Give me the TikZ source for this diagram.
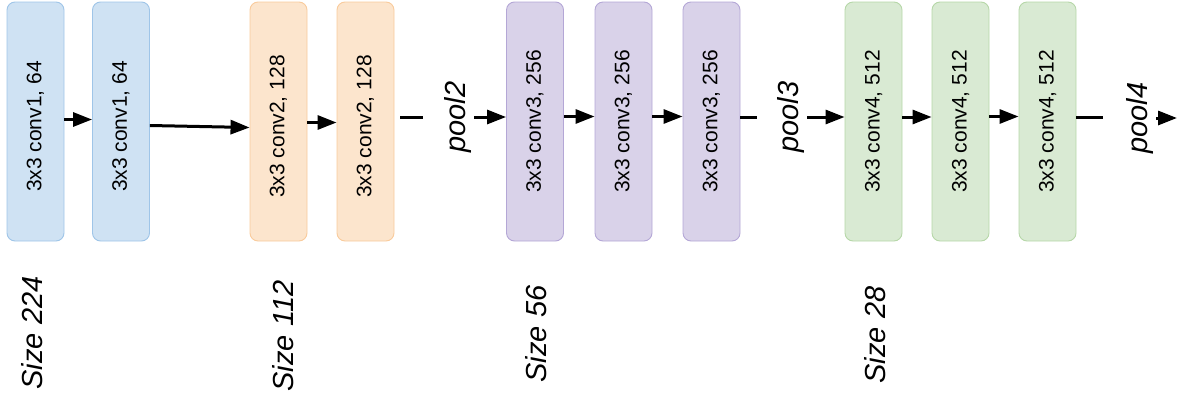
\documentclass[tikz,border=0pt]{standalone}
\usepackage{fontspec}
\setmainfont{Liberation Sans}
\usetikzlibrary{arrows.meta}
\definecolor{blueFill}{HTML}{CFE2F3}
\definecolor{blueLine}{HTML}{9FC5E8}
\definecolor{orangeFill}{HTML}{FCE5CD}
\definecolor{orangeLine}{HTML}{F9CB9C}
\definecolor{purpleFill}{HTML}{D9D2E9}
\definecolor{purpleLine}{HTML}{B4A7D6}
\definecolor{greenFill}{HTML}{D9EAD3}
\definecolor{greenLine}{HTML}{B6D7A8}

\begin{document}
\begin{tikzpicture}[x=1pt,y=-1pt,line width=3pt,>={Triangle[length=19pt,width=14pt]},
  conv/.style={draw=#1Line,fill=#1Fill,line width=0.9pt,rounded corners=8pt,
    minimum width=57pt,minimum height=239pt,inner sep=0pt},
  txt/.style={rotate=90,inner sep=0pt,font=\fontsize{21}{25}\selectfont},
  pool/.style={inner sep=1pt,font=\fontsize{29}{34}\selectfont\itshape}]
\useasboundingbox (0,0) rectangle (1177,397);
% ---------- conv1 (size 224) ----------
\node[conv=blue,label={[yshift=-5pt,txt]center:{3x3 conv1, 64}}] (c1a) at (35.5,121.5) {};
\node[conv=blue,label={[yshift=-5pt,txt]center:{3x3 conv1, 64}}] (c1b) at (121,121.5) {};
\draw[->] ([yshift=2pt]c1a.east) -- ([yshift=2pt]c1b.west);
\node[pool] (z1) at (32,333) {\rotatebox{90}{Size 224}};
% ---------- conv2 (size 112) ----------
\node[conv=orange,label={[yshift=-5pt,txt]center:{3x3 conv2, 128}}] (c2a) at (278.5,121.5) {};
\node[conv=orange,label={[yshift=-5pt,txt]center:{3x3 conv2, 128}}] (c2b) at (365.5,121.5) {};
\draw[->] ([yshift=-4pt]c1b.east) -- ([yshift=-6pt]c2a.west);
\draw[->] ([yshift=-1pt]c2a.east) -- ([yshift=-1pt]c2b.west);
\coordinate (s2) at (423,117);
\draw ([xshift=6pt,yshift=4.5pt]c2b.east) -- (s2);
\node[pool] (z2) at (283,336) {\rotatebox{90}{Size 112}};
% ---------- conv3 (size 56) ----------
\node[conv=purple,label={[txt]center:{3x3 conv3, 256}}] (c3a) at (535,121.5) {};
\node[conv=purple,label={[txt]center:{3x3 conv3, 256}}] (c3b) at (623.5,121.5) {};
\node[conv=purple,label={[txt]center:{3x3 conv3, 256}}] (c3c) at (711.5,121.5) {};
\node[pool] (p2) at (458,117) {\rotatebox{90}{pool2}};
\draw[->] (p2.east) -- (p2.east -| c3a.west);
\draw[->] ([yshift=5pt]c3a.east) -- ([yshift=5pt]c3b.west);
\draw[->] ([yshift=5pt]c3b.east) -- ([yshift=5pt]c3c.west);
\coordinate (s3) at (757,117);
\draw ([yshift=4.5pt]c3c.east) -- (s3);
\node[pool] (z3) at (536,334) {\rotatebox{90}{Size 56}};
% ---------- conv4 (size 28) ----------
\node[conv=green,label={[txt]center:{3x3 conv4, 512}}] (c4a) at (873.5,121.5) {};
\node[conv=green,label={[txt]center:{3x3 conv4, 512}}] (c4b) at (960.5,121.5) {};
\node[conv=green,label={[txt]center:{3x3 conv4, 512}}] (c4c) at (1047.5,121.5) {};
\node[pool] (p3) at (791,117) {\rotatebox{90}{pool3}};
\draw[->] (p3.east) -- (p3.east -| c4a.west);
\draw[->] ([yshift=4.5pt]c4a.east) -- ([yshift=4.5pt]c4b.west);
\draw[->] ([yshift=5pt]c4b.east) -- ([yshift=5pt]c4c.west);
\coordinate (s4) at (1103,117);
\draw ([yshift=4.5pt]c4c.east) -- (s4);
\node[pool] (p4) at (1140,118) {\rotatebox{90}{pool4}};
\coordinate (out) at (1177,118);
\draw[->] (p4.east) -- (out);
\node[pool] (z4) at (875,335) {\rotatebox{90}{Size 28}};
\end{tikzpicture}
\end{document}
